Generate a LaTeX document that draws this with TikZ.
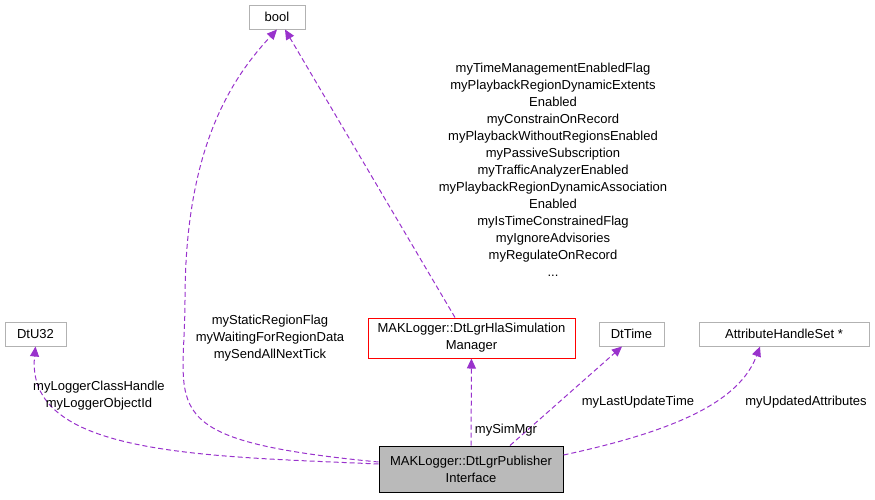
\documentclass[tikz,border=0pt]{standalone}
\usepackage{fontspec}
\setmainfont{Liberation Sans}
\usetikzlibrary{arrows.meta}
\definecolor{edgepurple}{RGB}{153,50,204}
\begin{document}
\begin{tikzpicture}[x=1pt, y=-1pt,
    every node/.style={font=\fontsize{13}{17}\selectfont, align=center},
    box/.style={draw=black!30, rectangle, inner sep=3pt, minimum height=24pt, line width=1pt},
    edge/.style={draw=edgepurple, line width=1pt, dash pattern=on 5pt off 3pt, -{Triangle[length=10pt,width=9pt,fill=edgepurple]}}
  ]
  \useasboundingbox (0,0) rectangle (875,499);
  % nodes
  \node[box, minimum width=56pt] (bool) at (277,17) {bool};
  \node[box, minimum width=61pt] (u32) at (35.5,334) {DtU32};
  \node[box, draw=red, minimum width=207pt, minimum height=40pt] (simmgr) at (471.5,338) {MAKLogger::DtLgrHlaSimulation\\Manager};
  \node[box, minimum width=65pt] (time) at (631.5,334) {DtTime};
  \node[box, minimum width=170pt] (ahs) at (784,334) {AttributeHandleSet *};
  \node[box, draw=black, fill=black!27, minimum width=184pt, minimum height=46pt] (pub) at (471,469) {MAKLogger::DtLgrPublisher\\Interface};
  % connectors
  \draw[edge] (pub.west |- 0,464) .. controls (200,456) and (25,455) .. (u32.south);
  \draw[edge] (pub.west |- 0,462) .. controls (150,440) and (185,410) .. (185,300) .. controls (185,150) and (230,80) .. (bool.south);
  \draw[edge] (pub) -- (simmgr);
  \draw[edge] (simmgr.north -| 455,0) -- (bool.south -| 285,0);
  \draw[edge] (pub.north -| 510,0) -- (time.south -| 622,0);
  \draw[edge] (pub.east |- 0,455) .. controls (680,430) and (740,400) .. (ahs.south -| 760,0);
  % labels
  \node (lu32) at (99,396) {myLoggerClassHandle\\myLoggerObjectId};
  \node (lbool) at (270,338) {myStaticRegionFlag\\myWaitingForRegionData\\mySendAllNextTick};
  \node (lsim) at (506,430) {mySimMgr};
  \node (lflags) at (553,170) {myTimeManagementEnabledFlag\\myPlaybackRegionDynamicExtents\\Enabled\\myConstrainOnRecord\\myPlaybackWithoutRegionsEnabled\\myPassiveSubscription\\myTrafficAnalyzerEnabled\\myPlaybackRegionDynamicAssociation\\Enabled\\myIsTimeConstrainedFlag\\myIgnoreAdvisories\\myRegulateOnRecord\\...};
  \node (ltime) at (638,402) {myLastUpdateTime};
  \node (lahs) at (806,402) {myUpdatedAttributes};
\end{tikzpicture}
\end{document}
